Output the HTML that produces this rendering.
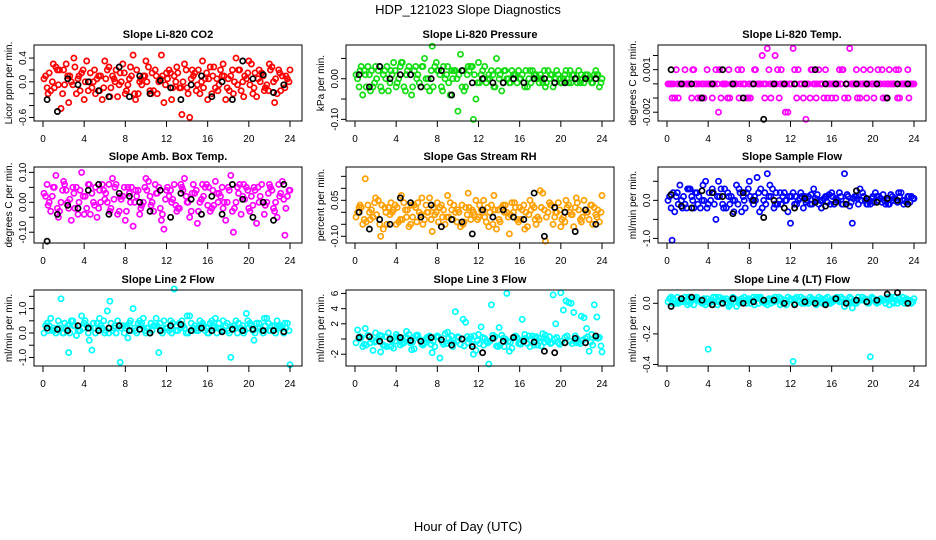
<!DOCTYPE html>
<html><head><meta charset="utf-8"><style>
html,body{margin:0;padding:0;background:#fff;}
svg{display:block;font-family:"Liberation Sans",sans-serif;}
</style></head><body>
<svg id="chart" width="936" height="540" viewBox="0 0 936 540">
<text x="468" y="14" font-size="13" text-anchor="middle">HDP_121023  Slope Diagnostics</text>
<text x="468" y="531" font-size="13" text-anchor="middle">Hour of Day (UTC)</text>
</svg>
<script>
const hoursA = [0.25,0.75,1.25,1.75,2.25,2.75,3.25,3.75,4.25,4.75,5.25,5.75,6.25,6.75,7.25,7.75,8.25,8.75,9.25,9.75,10.25,10.75,11.25,11.75,12.25,12.75,13.25,13.75,14.25,14.75,15.25,15.75,16.25,16.75,17.25,17.75,18.25,18.75,19.25,19.75,20.25,20.75,21.25,21.75,22.25,22.75,23.25,23.75];
const hoursB = [0.5,1,1.5,2,2.5,3,3.5,4,4.5,5,5.5,6,6.5,7,7.5,8,8.5,9,9.5,10,10.5,11,11.5,12,12.5,13,13.5,14,14.5,15,15.5,16,16.5,17,17.5,18,18.5,19,19.5,20,20.5,21,21.5,22,22.5,23,23.5,24];
const hoursC = [0.1,0.6,1.1,1.6,2.1,2.6,3.1,3.6,4.1,4.6,5.1,5.6,6.1,6.6,7.1,7.6,8.1,8.6,9.1,9.6,10.1,10.6,11.1,11.6,12.1,12.6,13.1,13.6,14.1,14.6,15.1,15.6,16.1,16.6,17.1,17.6,18.1,18.6,19.1,19.6,20.1,20.6,21.1,21.6,22.1,22.6,23.1,23.6];
const hoursD = [0.4,0.9,1.4,1.9,2.4,2.9,3.4,3.9,4.4,4.9,5.4,5.9,6.4,6.9,7.4,7.9,8.4,8.9,9.4,9.9,10.4,10.9,11.4,11.9,12.4,12.9,13.4,13.9,14.4,14.9,15.4,15.9,16.4,16.9,17.4,17.9,18.4,18.9,19.4,19.9,20.4,20.9,21.4,21.9,22.4,22.9,23.4,23.9];
const hoursBlack = [0.4,1.4,2.4,3.4,4.4,5.4,6.4,7.4,8.4,9.4,10.4,11.4,12.4,13.4,14.4,15.4,16.4,17.4,18.4,19.4,20.4,21.4,22.4,23.4];
const xTicks = [0,4,8,12,16,20,24];

const co2A = [0.1,-0.15,0.25,-0.45,0.3,0.0,-0.2,0.15,0.35,-0.1,0.05,-0.3,0.2,0.1,-0.25,0.3,-0.05,0.45,-0.2,0.1,0.25,-0.15,0.0,-0.35,0.2,0.1,-0.1,0.3,-0.6,0.15,-0.2,0.05,0.25,-0.1,0.2,-0.3,0.1,0.4,-0.15,0.05,0.3,-0.25,0.15,-0.05,0.25,-0.2,0.1,0.05];
const co2B = [-0.2,0.3,-0.05,0.2,-0.35,0.4,0.1,-0.3,0.0,0.2,-0.15,0.35,-0.25,0.0,0.15,-0.2,0.25,-0.3,0.05,0.35,-0.2,0.1,0.45,0.15,-0.3,0.25,-0.55,-0.1,0.2,-0.05,0.35,-0.3,0.1,-0.15,0.3,0.05,-0.2,0.2,-0.25,0.35,-0.1,0.2,-0.15,0.3,-0.35,0.15,-0.1,0.2];
const co2C = [0.05,0.15,-0.1,0.2,-0.05,0.1,0.25,-0.15,0.0,0.15,-0.2,0.1,0.05,-0.1,0.2,0.0,-0.15,0.1,0.2,-0.05,0.0,0.15,-0.2,0.1,0.05,-0.1,0.15,0.0,-0.2,0.1,0.2,-0.1,0.05,0.25,-0.05,0.1,-0.15,0.0,0.2,0.1,-0.05,0.15,0.0,-0.1,0.2,0.05,-0.15,0.1];
const co2D = [-0.1,0.0,0.2,-0.2,0.1,-0.05,0.05,0.2,-0.15,0.0,0.1,-0.1,0.25,0.05,-0.05,0.15,0.05,-0.2,0.0,0.1,-0.15,0.2,0.05,-0.05,0.15,0.0,-0.1,0.2,0.05,-0.15,0.0,0.15,-0.2,0.05,0.1,-0.1,0.2,-0.05,0.0,0.15,-0.2,0.05,0.1,-0.15,0.0,0.2,-0.05,0.0];
const co2K = [-0.3,-0.5,0.05,-0.05,0.0,-0.15,-0.25,0.25,-0.25,0.1,-0.2,0.02,-0.1,-0.3,-0.05,0.1,-0.25,0.0,-0.3,0.35,0.05,0.12,-0.18,-0.05];

const presA = [0.0,-0.04,0.03,-0.02,0.02,0.01,-0.03,0.04,0.0,-0.02,0.03,0.02,-0.01,0.05,-0.03,0.03,0.01,0.0,-0.04,0.02,0.06,-0.02,0.03,-0.05,0.01,-0.01,0.02,0.05,-0.03,0.0,0.02,-0.01,0.01,-0.02,0.02,0.0,-0.01,0.02,-0.02,0.01,0.0,-0.01,0.01,0.02,-0.01,0.0,0.01,-0.02];
const presB = [0.02,0.01,-0.03,0.03,-0.02,0.0,0.02,-0.02,0.04,0.01,-0.04,0.0,0.03,-0.02,0.08,0.02,-0.03,0.03,0.0,-0.08,0.02,0.03,-0.1,0.04,0.0,0.01,-0.02,0.0,0.02,-0.01,0.01,0.0,-0.02,0.02,0.0,0.01,-0.02,0.01,0.0,-0.01,0.02,-0.01,0.0,0.01,0.0,-0.01,0.01,0.0];
const presC = [0.01,0.03,-0.02,0.02,0.0,-0.03,0.03,0.01,-0.01,0.04,0.02,-0.02,0.01,0.03,0.0,-0.02,0.02,0.03,-0.01,0.02,0.01,-0.03,0.02,0.01,-0.01,0.03,0.0,-0.02,0.01,0.02,-0.01,0.01,0.0,0.02,-0.01,0.01,0.0,-0.01,0.01,0.02,-0.01,0.0,0.01,-0.01,0.0,0.01,-0.01,0.01];
const presD = [-0.02,0.02,0.01,-0.01,0.03,0.02,-0.01,0.02,0.03,-0.03,0.01,0.03,-0.02,0.0,0.02,0.04,-0.02,0.01,0.02,0.0,-0.02,0.01,0.03,-0.01,0.02,0.0,0.01,0.02,-0.01,0.0,0.01,0.02,-0.01,0.0,0.01,-0.01,0.02,0.0,-0.01,0.0,0.01,0.02,0.0,-0.01,0.01,0.0,0.02,-0.01];
const presK = [0.01,-0.02,0.03,0.0,0.01,0.01,-0.02,0.0,0.02,-0.04,0.02,-0.01,0.0,-0.01,-0.01,0.0,-0.01,0.0,0.0,-0.01,-0.01,0.0,0.0,0.0];

const tempA = [0,-0.001,0,0.001,0,0,-0.001,0,0,0.001,-0.001,0,0,0,0.001,-0.001,0,0,0.002,0.0025,0,0.001,0,-0.002,0.0025,0.001,-0.001,0,0,0.001,-0.001,0,0,0.001,-0.001,0.0025,0,-0.001,0,0.001,0,0,-0.001,0,0.001,0,0,0];
const tempB = [-0.001,0,0,0,0.001,-0.001,0,0,0,-0.002,0,0.001,0,-0.001,0,0,0.001,0,-0.001,0,0.002,0,-0.002,0,0,0,-0.0025,0.001,-0.001,0,0,-0.001,0,0.001,0,0,-0.001,0,0,0,0.001,-0.001,0,0,0.001,0,-0.001,0];
const tempC = [0,0,-0.001,0,0,0.001,0,-0.001,0,0,0.001,0,-0.001,0,0,0,-0.001,0.001,0,0,-0.001,0,0.001,0,0,-0.001,0,0,0.001,0,0,-0.001,0,0,0.001,-0.001,0,0,0.001,0,-0.001,0,0,0.001,0,-0.001,0,0];
const tempD = [0,0.001,0,0,-0.001,0,0,0.001,-0.001,0,0,-0.001,0,0.001,0,-0.001,0,0,0,0.001,0,-0.001,0,0,0.001,0,0,-0.001,0,0,0.001,0,-0.001,0,0,0,0.001,0,-0.001,0,0,0.001,0,0,-0.001,0,0.001,0];
const tempK = [0.001,0,0,-0.001,0,0.001,0,-0.001,0,-0.0025,0,0,0,0,0.001,0,0,0,0,0,0,-0.001,0,0];

const ambA = [0.02,-0.03,0.09,0.0,0.04,-0.06,0.05,0.1,-0.02,0.03,-0.05,0.06,0.0,0.08,-0.04,0.02,0.05,-0.08,0.04,0.0,0.07,-0.03,0.05,-0.09,0.02,0.06,-0.02,0.08,-0.05,0.03,0.0,0.05,-0.03,0.07,0.02,-0.06,0.09,0.0,-0.04,0.05,0.02,-0.07,0.06,0.0,0.04,-0.05,0.07,0.02];
const ambB = [-0.01,0.05,-0.05,0.07,-0.02,0.03,0.0,-0.04,0.06,-0.01,0.04,0.01,-0.03,0.05,0.02,-0.06,0.0,0.04,-0.02,0.08,-0.01,0.03,-0.06,0.04,0.0,-0.03,0.05,0.0,0.03,-0.07,0.06,-0.01,0.04,0.0,-0.02,0.05,-0.1,0.03,0.06,-0.02,0.05,0.0,-0.04,0.06,-0.03,0.02,-0.11,0.04];
const ambC = [0.03,0.0,0.05,-0.03,0.06,0.01,-0.02,0.04,0.02,-0.04,0.05,0.0,0.03,-0.02,0.06,0.01,-0.03,0.05,0.02,-0.01,0.04,0.0,0.03,-0.04,0.05,0.01,-0.02,0.04,0.0,0.06,-0.03,0.02,0.05,-0.01,0.03,0.0,0.04,-0.02,0.06,0.01,-0.03,0.04,0.02,-0.01,0.05,0.0,0.03,-0.02];
const ambD = [0.06,0.02,-0.02,0.04,0.0,0.05,-0.04,0.02,0.06,0.0,-0.02,0.04,0.06,0.01,-0.03,0.05,0.03,0.0,-0.04,0.05,0.02,0.06,-0.02,0.01,0.04,-0.01,0.06,0.02,-0.03,0.04,0.01,0.06,-0.02,0.03,0.05,0.0,-0.03,0.05,0.02,0.04,-0.01,0.05,0.0,0.03,-0.02,0.06,0.01,0.04];
const ambK = [-0.13,-0.04,-0.01,-0.02,0.04,0.06,-0.04,0.03,0.02,0.0,-0.03,0.04,-0.05,0.03,0.01,-0.04,0.02,-0.04,0.06,0.01,-0.05,0.0,-0.06,0.06];

const rhA = [0.0,-0.05,0.03,-0.02,0.05,-0.07,0.02,0.01,-0.04,0.04,-0.06,0.03,0.0,-0.03,0.06,-0.01,0.02,-0.05,0.04,0.0,-0.06,0.02,-0.03,0.05,0.01,-0.04,0.03,-0.07,0.02,0.0,0.04,-0.03,0.01,-0.06,0.03,-0.02,0.08,0.0,-0.05,0.04,-0.02,0.03,-0.06,0.01,0.05,-0.03,0.02,-0.04];
const rhB = [0.03,0.14,-0.03,0.06,-0.1,0.0,0.04,-0.05,0.07,-0.02,0.03,-0.04,0.06,0.0,-0.08,0.04,-0.02,0.07,-0.03,0.01,-0.05,0.08,0.0,-0.02,0.05,-0.06,0.07,-0.03,0.0,-0.09,0.04,0.02,-0.07,0.05,-0.03,0.09,-0.12,0.03,0.0,-0.06,0.05,-0.01,0.06,-0.04,0.0,0.03,-0.02,0.07];
const rhC = [-0.02,0.02,-0.04,0.01,-0.01,0.03,-0.05,0.0,0.02,-0.03,0.01,-0.02,0.04,-0.05,0.0,0.02,-0.04,0.01,-0.02,0.03,0.0,-0.04,0.02,-0.01,0.03,-0.02,0.0,0.01,-0.04,0.03,-0.01,0.02,-0.03,0.0,0.01,-0.05,0.02,-0.02,0.03,0.0,-0.03,0.02,-0.01,0.04,-0.02,0.0,-0.05,0.01];
const rhD = [0.02,-0.03,0.0,0.04,-0.05,0.02,-0.01,0.03,-0.03,0.01,-0.05,0.02,-0.01,0.03,-0.03,0.0,0.03,-0.02,0.01,-0.04,0.03,-0.01,0.01,-0.03,0.0,0.02,-0.05,0.01,0.03,-0.02,0.0,-0.04,0.03,-0.01,0.02,-0.03,0.01,0.04,-0.02,0.01,-0.04,0.0,0.02,-0.03,0.01,0.03,-0.01,0.0];
const rhK = [0.0,-0.07,-0.03,-0.05,0.06,0.04,-0.02,0.03,-0.06,-0.03,-0.04,-0.09,0.01,-0.02,0.01,-0.02,-0.03,0.08,-0.1,0.02,0.0,-0.08,0.01,-0.05];

const sampA = [0.1,-0.3,0.4,-0.1,0.3,0.2,-0.2,0.5,0.0,-0.5,0.3,-0.2,0.1,0.4,-0.3,0.2,0.0,0.6,-0.2,0.7,0.3,-0.1,0.1,-0.3,0.2,0.0,-0.2,0.1,0.3,-0.1,0.05,0.15,-0.1,0.2,0.7,-0.15,0.1,0.3,0.0,-0.1,0.2,0.05,-0.1,0.15,0.0,0.2,-0.05,0.1];
const sampB = [-1.05,0.2,-0.2,0.3,0.0,-0.1,0.4,-0.1,0.2,0.5,-0.2,0.1,-0.3,0.3,0.0,0.5,0.1,-0.3,0.2,0.4,-0.1,0.2,0.0,-0.6,0.1,0.2,-0.05,0.15,0.0,-0.2,0.1,0.2,0.0,-0.1,0.15,-0.6,0.05,0.2,-0.1,0.1,0.0,0.15,-0.1,0.0,0.2,-0.1,0.1,0.05];
const sampC = [0.0,0.2,-0.1,0.1,0.3,-0.2,0.1,0.0,0.2,-0.1,0.1,0.3,-0.1,0.0,0.2,-0.2,0.1,0.0,0.3,-0.1,0.1,0.2,-0.1,0.0,0.1,-0.1,0.1,0.0,-0.1,0.15,0.0,-0.05,0.1,0.0,-0.1,0.1,0.05,-0.1,0.1,0.0,-0.05,0.1,0.0,-0.1,0.05,0.1,0.0,-0.05];
const sampD = [-0.2,0.1,0.0,-0.2,0.1,0.2,0.0,-0.2,0.3,0.1,-0.1,0.2,0.0,-0.1,0.1,0.3,-0.1,0.2,0.0,0.1,-0.2,0.0,0.2,0.1,-0.1,0.05,0.1,-0.1,0.05,0.0,0.1,-0.1,0.05,0.1,0.0,-0.05,0.1,0.0,-0.1,0.05,0.1,-0.05,0.0,0.1,-0.05,0.0,0.1,0.05];
const sampK = [0.15,-0.15,-0.2,0.25,0.2,0.1,-0.35,0.2,0.0,-0.45,0.0,-0.2,-0.2,0.05,-0.05,-0.15,-0.05,-0.1,0.25,0.05,-0.05,0.05,0.0,-0.1];

const l2A = [0.3,0.6,0.0,1.4,0.2,0.5,-0.1,0.7,0.3,-0.7,0.4,0.2,0.9,0.1,0.5,0.3,-0.2,1.0,0.4,0.6,0.2,0.3,-0.8,0.5,0.1,1.8,0.4,0.2,0.7,0.3,0.5,0.1,0.4,0.6,0.2,0.3,-1.0,0.5,0.2,0.8,0.3,0.4,0.1,0.6,0.3,0.5,0.2,0.4];
const l2B = [0.1,0.2,0.5,0.0,-0.8,0.3,0.1,0.4,-0.3,0.2,0.6,0.0,1.3,0.3,-1.2,0.2,0.5,0.1,0.3,0.0,0.4,0.6,0.1,0.2,0.0,0.3,0.5,0.7,0.1,0.2,0.4,0.0,0.3,0.2,0.5,0.1,0.3,0.4,0.0,0.2,-0.3,0.4,0.6,0.1,0.3,0.2,0.4,-1.3];
const l2C = [0.0,0.3,0.1,0.2,0.4,0.0,0.3,0.1,0.5,0.2,0.0,0.3,0.1,0.4,0.0,0.2,0.3,0.1,0.0,0.4,0.2,0.1,0.3,0.0,0.2,0.4,0.1,0.3,0.0,0.2,0.1,0.3,0.0,0.2,0.4,0.1,0.0,0.3,0.2,0.1,0.4,0.0,0.2,0.3,0.1,0.0,0.3,0.2];
const l2D = [0.4,0.1,0.2,0.0,0.3,0.5,0.1,0.2,0.0,0.4,0.2,0.5,0.0,0.2,0.3,0.0,0.4,0.2,0.5,0.1,0.0,0.3,0.4,0.2,0.5,0.1,0.2,0.0,0.4,0.1,0.3,0.2,0.5,0.0,0.1,0.4,0.2,0.0,0.3,0.5,0.1,0.2,0.0,0.4,0.1,0.3,0.0,0.1];
const l2K = [0.2,0.15,0.1,0.3,0.2,0.1,0.2,0.3,0.1,0.15,0.0,0.1,0.3,0.35,0.1,0.2,0.1,0.05,0.15,0.1,0.15,0.1,0.1,0.05];

const l3A = [1.2,-1.0,0.5,-1.5,0.0,-0.8,0.8,-1.2,0.2,-0.5,0.6,-1.3,0.0,-0.6,0.4,-1.0,-2.5,0.7,-0.4,3.6,-0.7,2.2,0.3,-1.5,1.6,-0.3,4.5,-0.9,0.5,6.0,-1.2,0.2,2.6,-0.6,0.4,-0.8,0.7,-0.3,5.8,-0.5,3.8,4.8,3.5,-0.4,2.8,-1.6,4.5,0.2];
const l3B = [0.3,1.4,-0.5,0.8,-1.7,0.3,-1.0,0.6,-0.2,1.0,-1.4,0.5,-0.7,0.2,-1.8,0.4,-0.4,0.9,-1.0,0.3,2.6,-0.5,-2.0,0.6,-0.8,-3.3,0.1,1.5,-1.0,-1.6,0.3,-0.5,0.6,-1.0,0.2,-0.3,0.5,-0.6,2.0,6.1,5.0,4.7,-0.5,3.0,1.4,0.6,2.9,-1.7];
const l3C = [-0.5,0.2,-0.8,0.0,-0.3,0.4,-1.0,-0.2,0.3,-0.6,0.1,-0.4,0.5,-0.8,0.0,-0.3,0.3,-0.7,0.1,-0.5,0.2,-0.9,0.0,0.4,-0.6,0.1,-0.3,0.3,-0.8,0.0,-0.4,0.4,-0.7,0.1,-0.2,0.3,-0.9,0.0,-0.5,0.2,-0.3,0.4,-0.6,0.0,-0.2,0.3,-0.8,0.1];
const l3D = [0.0,-0.7,0.3,-0.4,0.5,-0.9,0.1,-0.3,-0.8,0.2,-0.5,0.4,-0.2,0.0,-0.7,0.3,-0.1,-0.6,0.4,-0.3,0.0,0.3,-0.7,-0.2,0.2,-0.5,0.5,-1.0,0.1,-0.3,0.2,-0.6,0.0,0.4,-0.8,0.1,-0.4,0.3,0.0,-0.7,0.2,-0.3,0.4,-0.6,0.1,-0.4,0.2,-0.9];
const l3K = [0.2,0.3,-0.3,0.0,0.2,-0.2,-0.3,0.2,-0.1,-0.8,0.0,-1.0,-1.8,0.1,-0.3,0.2,-0.3,-0.4,-1.6,-1.8,-0.5,0.1,-0.5,0.4];

const l4A = [0.03,0.0,0.02,0.04,0.0,0.03,0.01,-0.01,0.02,0.04,0.0,0.03,0.01,-0.02,0.03,0.0,0.02,0.04,0.01,-0.01,0.03,0.02,0.0,0.04,-0.38,0.02,0.03,0.0,0.01,0.04,0.02,0.0,0.03,0.01,-0.02,0.04,0.0,0.02,0.03,-0.35,0.01,0.03,0.0,0.04,0.02,0.01,0.03,0.0];
const l4B = [0.0,0.04,0.01,-0.01,0.03,0.02,0.0,-0.3,0.04,0.01,0.02,-0.02,0.03,0.0,0.04,0.02,-0.01,0.03,0.0,0.02,0.04,-0.01,0.02,0.03,0.0,0.04,0.01,0.02,-0.01,0.03,0.0,0.02,0.04,0.01,0.0,-0.03,0.02,0.04,0.0,0.03,0.01,0.02,0.04,0.0,0.03,0.02,0.01,0.03];
const l4C = [0.01,0.03,0.0,0.02,0.04,-0.01,0.02,0.03,0.0,0.01,0.04,0.02,-0.01,0.03,0.01,0.02,0.0,0.03,0.04,0.01,0.0,0.02,0.03,-0.01,0.02,0.04,0.0,0.01,0.03,0.02,0.0,0.04,0.01,0.02,0.03,0.0,0.01,0.04,0.02,0.0,0.03,0.01,0.02,-0.01,0.04,0.03,0.0,0.02];
const l4D = [0.04,0.0,0.03,0.01,0.02,0.04,0.0,0.03,0.01,-0.01,0.03,0.0,0.04,0.02,0.01,0.03,0.04,0.0,0.02,0.03,0.01,0.04,0.0,0.02,0.03,0.01,0.0,0.04,0.02,0.01,0.03,0.0,0.02,0.04,0.01,0.03,0.0,0.02,0.01,0.04,0.0,0.02,0.03,0.01,0.0,0.04,0.02,0.01];
const l4K = [-0.02,0.03,0.04,0.02,-0.01,0.0,0.03,0.0,0.01,0.02,0.02,0.0,-0.01,0.01,0.0,-0.01,0.03,0.0,0.02,0.01,0.02,0.06,0.07,0.0];

const co2Ticks = [0.4,0.2,0,-0.2,-0.4,-0.6], co2Labels = ["0.4","","0.0","","","-0.6"];
const presTicks = [0.05,0,-0.05,-0.1], presLabels = ["","0.00","","-0.10"];
const tempTicks = [0.002,0.001,0,-0.001,-0.002], tempLabels = ["","0.001","","","-0.002"];
const ambTicks = [0.1,0.05,0,-0.05,-0.1], ambLabels = ["0.10","","0.00","","-0.10"];
const rhTicks = [0.15,0.1,0.05,0,-0.05,-0.1], rhLabels = ["","","0.05","","","-0.10"];
const sampTicks = [0.5,0,-0.5,-1], sampLabels = ["","0.0","","-1.0"];
const l2Ticks = [1.5,1,0.5,0,-0.5,-1], l2Labels = ["","1.0","","0.0","","-1.0"];
const l3Ticks = [6,4,2,0,-2], l3Labels = ["6","4","2","","-2"];
const l4Ticks = [0,-0.2,-0.4], l4Labels = ["0.0","-0.2","-0.4"];

const NS = "http://www.w3.org/2000/svg";
const svg = document.getElementById("chart");
function mk(tag, attrs, parent){ const e=document.createElementNS(NS,tag); for(const k in attrs) e.setAttribute(k,attrs[k]); parent.appendChild(e); return e; }

const panels = [
 {key:"co2",title:"Slope Li-820 CO2",ylab:"Licor ppm per min.",col:0,row:0,ymin:-0.66,ymax:0.62,color:"#ff0000",s:[co2A,co2B,co2C,co2D],k:co2K,ticks:co2Ticks,labels:co2Labels},
 {key:"pressure",title:"Slope Li-820 Pressure",ylab:"kPa per min.",col:1,row:0,ymin:-0.104,ymax:0.083,color:"#11dd11",s:[presA,presB,presC,presD],k:presK,ticks:presTicks,labels:presLabels},
 {key:"li820-temp",title:"Slope Li-820 Temp.",ylab:"degrees C per min.",col:2,row:0,ymin:-0.00262,ymax:0.00274,color:"#ff00ff",s:[tempA,tempB,tempC,tempD],k:tempK,ticks:tempTicks,labels:tempLabels},
 {key:"amb-box-temp",title:"Slope Amb. Box Temp.",ylab:"degrees C per min.",col:0,row:1,ymin:-0.136,ymax:0.118,color:"#ff00ff",s:[ambA,ambB,ambC,ambD],k:ambK,ticks:ambTicks,labels:ambLabels},
 {key:"gas-rh",title:"Slope Gas Stream RH",ylab:"percent per min.",col:1,row:1,ymin:-0.128,ymax:0.189,color:"#ffa000",s:[rhA,rhB,rhC,rhD],k:rhK,ticks:rhTicks,labels:rhLabels},
 {key:"sample-flow",title:"Slope Sample Flow",ylab:"ml/min per min.",col:2,row:1,ymin:-1.12,ymax:0.876,color:"#0000ff",s:[sampA,sampB,sampC,sampD],k:sampK,ticks:sampTicks,labels:sampLabels},
 {key:"line2-flow",title:"Slope Line 2 Flow",ylab:"ml/min per min.",col:0,row:2,ymin:-1.35,ymax:1.76,color:"#00ffff",s:[l2A,l2B,l2C,l2D],k:l2K,ticks:l2Ticks,labels:l2Labels},
 {key:"line3-flow",title:"Slope Line 3 Flow",ylab:"ml/min per min.",col:1,row:2,ymin:-3.55,ymax:6.45,color:"#00ffff",s:[l3A,l3B,l3C,l3D],k:l3K,ticks:l3Ticks,labels:l3Labels},
 {key:"line4-flow",title:"Slope Line 4 (LT) Flow",ylab:"ml/min per min.",col:2,row:2,ymin:-0.41,ymax:0.087,color:"#00ffff",s:[l4A,l4B,l4C,l4D],k:l4K,ticks:l4Ticks,labels:l4Labels}
];
const hourSets=[hoursA,hoursB,hoursC,hoursD];
const colLeft=[34,346,658], rowTop=[45,167,290], W=268, H=76;

panels.forEach(p=>{
  const L=colLeft[p.col], T=rowTop[p.row], B=T+H, R=L+W;
  const x0=L+9, x24=L+256;
  const xs=h=>x0+(x24-x0)*h/24;
  const ys=v=>B-(v-p.ymin)/(p.ymax-p.ymin)*H;
  const g=mk("g",{},svg);
  
  
  const t=mk("text",{x:(L+R)/2,y:T-7,"font-size":"11","font-weight":"bold","text-anchor":"middle"},g);
  t.textContent=p.title;
  
  
  const yl=mk("text",{x:L-22,y:(T+B)/2,"font-size":"10","text-anchor":"middle",transform:`rotate(-90 ${L-22} ${(T+B)/2})`},g);
  yl.textContent=p.ylab;
  
  
  const pts=mk("g",{},g);
  
  
  const dot=(h,v,c,nm)=>{
    const y=ys(v); if(y<T-2||y>B+2) return;
    const d=mk("circle",{cx:xs(h).toFixed(1),cy:y.toFixed(1),r:"2.6",fill:"none",stroke:c,"stroke-width":"1.7"},pts);
    
    
  };
  p.s.forEach((arr,si)=>arr.forEach((v,i)=>dot(hourSets[si][i],v,p.color,'point-color')));
  p.k.forEach((v,i)=>dot(hoursBlack[i],v,"#000",'point-black'));
  const box=mk("rect",{x:L,y:T,width:W,height:H,fill:"none",stroke:"#000","stroke-width":"1"},g);
  
  
  xTicks.forEach(h=>{
    const tk=mk("line",{x1:xs(h),x2:xs(h),y1:B,y2:B+6,stroke:"#000"},g);
    
    
    const tl=mk("text",{x:xs(h),y:B+21,"font-size":"10","text-anchor":"middle"},g);
    tl.textContent=h;
    
    
  });
  p.ticks.forEach((v,i)=>{
    const y=ys(v);
    const tk=mk("line",{x1:L-5,x2:L,y1:y,y2:y,stroke:"#000"},g);
    
    
    if(p.labels[i]){
      const tl=mk("text",{x:L-8,y:y,"font-size":"10","text-anchor":"middle",transform:`rotate(-90 ${L-8} ${y})`},g);
      tl.textContent=p.labels[i];
      
      
    }
  });
});
</script>
</body></html>
